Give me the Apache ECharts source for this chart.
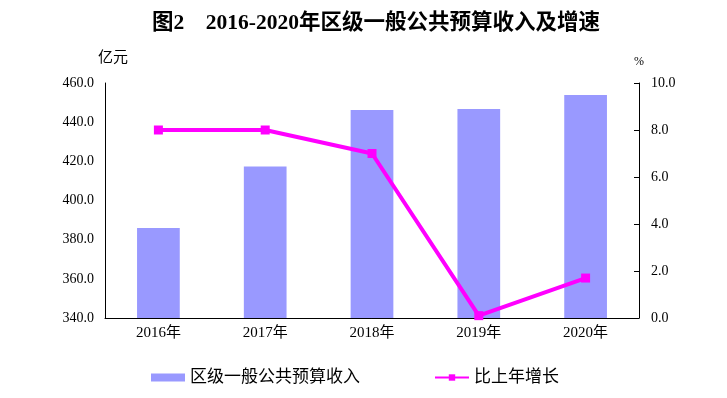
<!DOCTYPE html>
<html lang="zh">
<head>
<meta charset="UTF-8">
<title>区级一般公共预算收入及增速</title>
<script src="https://cdn.jsdelivr.net/npm/echarts@6/dist/echarts.min.js"></script>
<style>
  html, body { margin: 0; padding: 0; background: #fff; }
  #chart { width: 727px; height: 398px; }
</style>
</head>
<body>
<div id="chart"></div>
<script>
    var years = ['2016年', '2017年', '2018年', '2019年', '2020年'];
    var revenue = [386.0, 417.3, 446.2, 446.7, 453.9];   // 亿元
    var growth = [8.0, 8.0, 7.0, 0.1, 1.7];              // %
    var leftTicks = [340, 460, 20];
    var rightTicks = [0, 10, 2];

    var fontMix = '"Liberation Serif", "Noto Sans CJK SC", serif';
    var chart = echarts.init(document.getElementById('chart'));

    var option = {
        animation: false,
        title: {
            text: '图2    2016-2020年区级一般公共预算收入及增速',
            left: 152,
            top: 13,
            padding: 0,
            textStyle: {
                fontFamily: fontMix,
                fontSize: 21.5,
                fontWeight: 'bold',
                color: '#000'
            }
        },
        legend: {
            left: 146,
            top: 364,
            itemGap: 74,
            itemWidth: 34,
            itemHeight: 8,
            textStyle: {
                fontFamily: fontMix,
                fontSize: 17,
                color: '#000'
            },
            data: [{ name: '区级一般公共预算收入', icon: 'rect' }, '比上年增长']
        },
        grid: {
            left: 105,
            right: 88,
            top: 83,
            bottom: 80
        },
        xAxis: {
            type: 'category',
            data: years,
            boundaryGap: true,
            axisLine: { lineStyle: { color: '#000', width: 1 } },
            axisTick: { inside: true, length: 5, lineStyle: { color: '#000' } },
            axisLabel: {
                color: '#000',
                fontFamily: fontMix,
                fontSize: 15,
                margin: 8
            }
        },
        yAxis: [{
            type: 'value',
            name: '亿元',
            nameGap: 17,
            nameTextStyle: { color: '#000', fontFamily: fontMix, fontSize: 15, padding: [0, 0, 0, 16] },
            min: leftTicks[0],
            max: leftTicks[1],
            interval: leftTicks[2],
            splitLine: { show: false },
            axisLine: { show: true, lineStyle: { color: '#000' } },
            axisTick: { show: false },
            axisLabel: {
                color: '#000',
                fontFamily: fontMix,
                fontSize: 14,
                margin: 11,
                formatter: function (v) { return v.toFixed(1); }
            }
        }, {
            type: 'value',
            name: '%',
            nameGap: 15,
            nameTextStyle: { color: '#000', fontFamily: fontMix, fontSize: 12 },
            min: rightTicks[0],
            max: rightTicks[1],
            interval: rightTicks[2],
            splitLine: { show: false },
            axisLine: { show: true, lineStyle: { color: '#000' } },
            axisTick: { show: true, inside: true, length: 5, lineStyle: { color: '#000' } },
            axisLabel: {
                color: '#000',
                fontFamily: fontMix,
                fontSize: 14,
                margin: 12,
                formatter: function (v) { return v.toFixed(1); }
            }
        }],
        series: [{
            name: '区级一般公共预算收入',
            type: 'bar',
            yAxisIndex: 0,
            barWidth: '40%',
            itemStyle: { color: '#9999FF' },
            data: revenue
        }, {
            name: '比上年增长',
            type: 'line',
            yAxisIndex: 1,
            symbol: 'rect',
            symbolSize: 9,
            lineStyle: { color: '#FF00FF', width: 4 },
            itemStyle: { color: '#FF00FF' },
            data: growth
        }]
    };

    chart.setOption(option);
</script>
</body>
</html>
